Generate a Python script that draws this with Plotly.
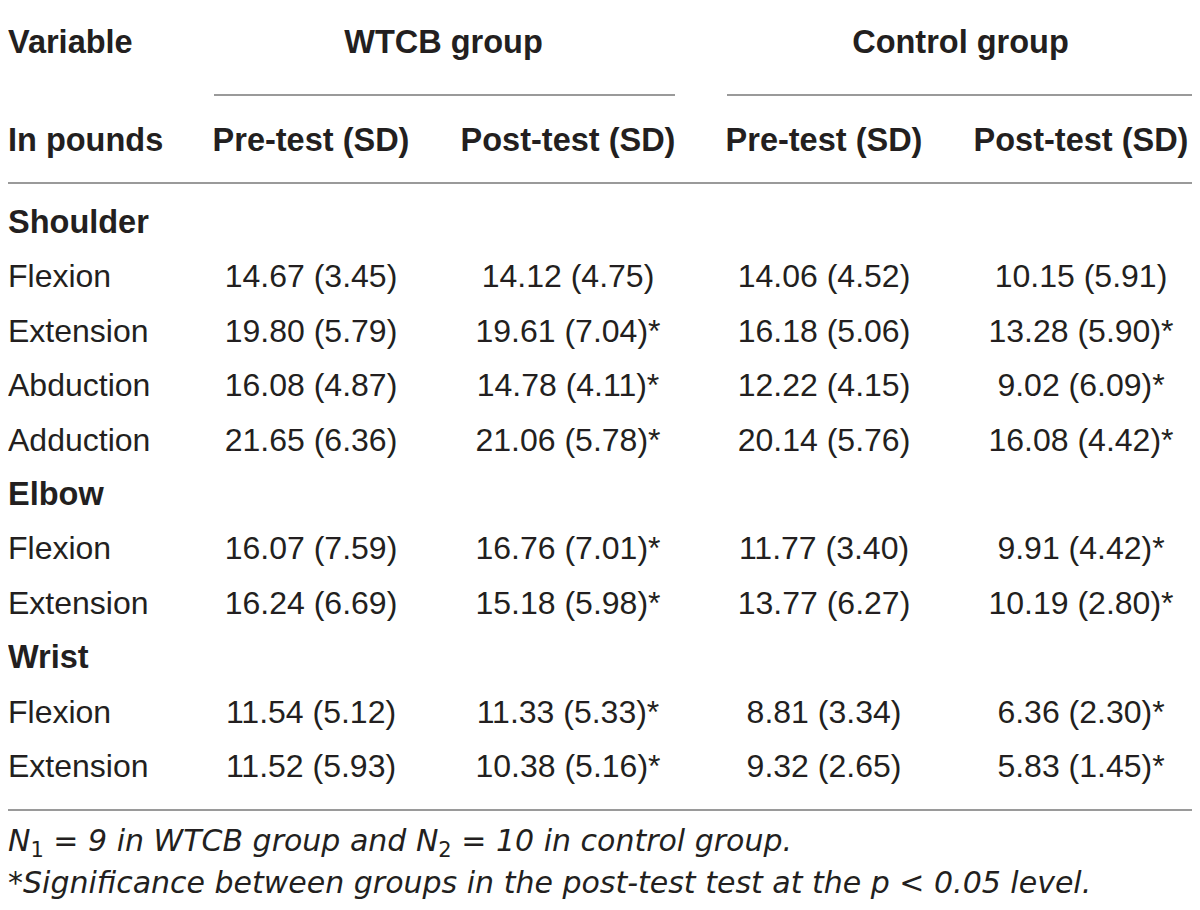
import plotly.graph_objects as go

# table content
sections = ["Shoulder", "Elbow", "Wrist"]
section_measures = [["Flexion", "Extension", "Abduction", "Adduction"],
                    ["Flexion", "Extension"],
                    ["Flexion", "Extension"]]

wtcb_pre_mean = [14.67, 19.80, 16.08, 21.65, 16.07, 16.24, 11.54, 11.52]
wtcb_pre_sd = [3.45, 5.79, 4.87, 6.36, 7.59, 6.69, 5.12, 5.93]
wtcb_post_mean = [14.12, 19.61, 14.78, 21.06, 16.76, 15.18, 11.33, 10.38]
wtcb_post_sd = [4.75, 7.04, 4.11, 5.78, 7.01, 5.98, 5.33, 5.16]
ctrl_pre_mean = [14.06, 16.18, 12.22, 20.14, 11.77, 13.77, 8.81, 9.32]
ctrl_pre_sd = [4.52, 5.06, 4.15, 5.76, 3.40, 6.27, 3.34, 2.65]
ctrl_post_mean = [10.15, 13.28, 9.02, 16.08, 9.91, 10.19, 6.36, 5.83]
ctrl_post_sd = [5.91, 5.90, 6.09, 4.42, 4.42, 2.80, 2.30, 1.45]
post_significant = [False, True, True, True, True, True, True, True]

group_labels = ["WTCB group", "Control group"]
sub_labels = ["Pre-test (SD)", "Post-test (SD)", "Pre-test (SD)", "Post-test (SD)"]
stub_labels = ["Variable", "In pounds"]
footnotes = ["<i>N</i><sub>1</sub><i> = 9 in WTCB group and </i><i>N</i><sub>2</sub><i> = 10 in control group.</i>",
             "<i>*Significance between groups in the post-test test at the p < 0.05 level.</i>"]

# layout (coordinates are page pixels; the page body has an 8px margin)
W, H, PAD = 1200, 910, 8
col_x = [311, 568, 824, 1081]
stub_x = 8
group_y, sub_y = 45, 143
first_row_y, row_step = 225, 54.4
ink = "#231f20"
rule = "#9a9a9a"
body_font = dict(family="Liberation Sans, Arial", size=32, color=ink)
bold_font = dict(family="Liberation Sans, Arial", size=32.5, color=ink, weight="bold")
note_font = dict(family="DejaVu Sans", size=30, color=ink)


def cell(mean, sd, star=False):
    return f"{mean:.2f} ({sd:.2f})" + ("*" if star else "")


# build rows
stub_text, stub_y, stub_bold = [], [], []
data_y = []
y = first_row_y
for name, measures in zip(sections, section_measures):
    stub_text.append(name); stub_y.append(y); stub_bold.append(True)
    y += row_step
    for m in measures:
        stub_text.append(m); stub_y.append(y); stub_bold.append(False)
        data_y.append(y)
        y += row_step

columns = [
    [cell(a, b) for a, b in zip(wtcb_pre_mean, wtcb_pre_sd)],
    [cell(a, b, s) for a, b, s in zip(wtcb_post_mean, wtcb_post_sd, post_significant)],
    [cell(a, b) for a, b in zip(ctrl_pre_mean, ctrl_pre_sd)],
    [cell(a, b, s) for a, b, s in zip(ctrl_post_mean, ctrl_post_sd, post_significant)],
]

fig = go.Figure()

# header
fig.add_trace(go.Scatter(x=[stub_x, stub_x], y=[group_y, sub_y], text=stub_labels, mode="text",
                         textposition="middle right", textfont=bold_font, hoverinfo="skip"))
fig.add_trace(go.Scatter(x=[(col_x[0] + col_x[1]) / 2 + 4, (col_x[2] + col_x[3]) / 2 + 8], y=[group_y, group_y],
                         text=group_labels, mode="text", textposition="middle center",
                         textfont=bold_font, hoverinfo="skip"))
fig.add_trace(go.Scatter(x=col_x, y=[sub_y] * 4, text=sub_labels, mode="text",
                         textposition="middle center", textfont=bold_font, hoverinfo="skip"))

# stub column
stub_sizes = [bold_font["size"] if b else body_font["size"] for b in stub_bold]
fig.add_trace(go.Scatter(x=[stub_x] * len(stub_text), y=stub_y,
                         text=[f"<b>{t}</b>" if b else t for t, b in zip(stub_text, stub_bold)],
                         mode="text", textposition="middle right",
                         textfont=dict(family=body_font["family"], size=stub_sizes, color=ink),
                         hoverinfo="skip"))

# data columns
for cx, vals in zip(col_x, columns):
    fig.add_trace(go.Scatter(x=[cx] * len(vals), y=data_y, text=vals, mode="text",
                             textposition="middle center", textfont=body_font, hoverinfo="skip"))

# footnotes
fig.add_trace(go.Scatter(x=[stub_x, stub_x], y=[843, 885], text=footnotes, mode="text",
                         textposition="middle right", textfont=note_font, hoverinfo="skip"))

# rules
for x0, x1, yy in [(0, 1196, 6), (214, 675, 95), (727, 1194, 95), (0, 1196, 183), (0, 1196, 810)]:
    fig.add_shape(type="line", x0=x0, x1=x1, y0=yy, y1=yy, xref="x", yref="y",
                  line=dict(color=rule, width=2))

fig.update_layout(
    width=W - PAD, height=H - PAD, margin=dict(l=0, r=0, t=0, b=0),
    paper_bgcolor="white", plot_bgcolor="white", showlegend=False,
    xaxis=dict(range=[PAD, W], visible=False, fixedrange=True),
    yaxis=dict(range=[H, PAD], visible=False, fixedrange=True),
)

fig.write_html("out.html")
